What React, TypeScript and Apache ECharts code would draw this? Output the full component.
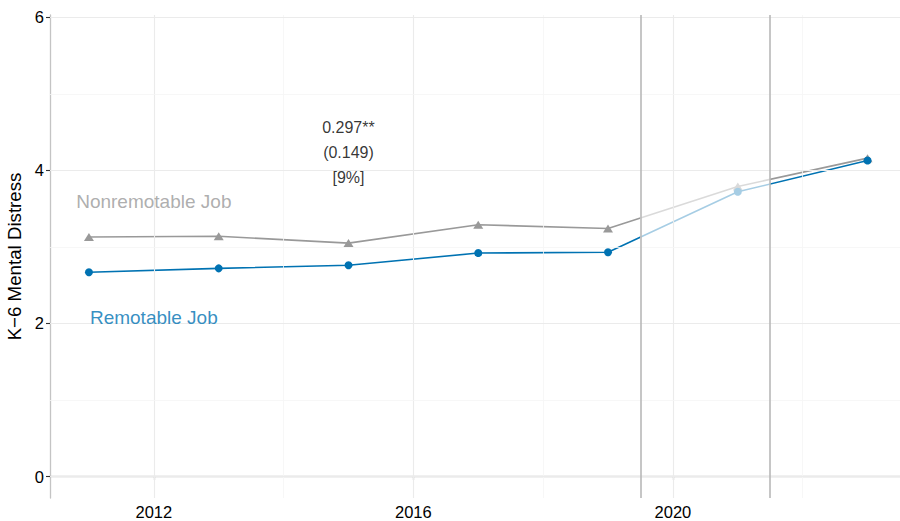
import React, { useEffect, useRef } from "react";
import * as echarts from "echarts";

// Survey years and K-6 mental distress means by job type
const years = [2011, 2013, 2015, 2017, 2019, 2021, 2023];
const nonremotable = [3.13, 3.14, 3.05, 3.29, 3.24, 3.79, 4.16];
const remotable = [2.67, 2.72, 2.76, 2.92, 2.93, 3.72, 4.13];

// Axis ticks and grid
const xTicks = [2012, 2016, 2020];
const xMinor = [2014, 2018, 2022];
const yTicks = [0, 2, 4, 6];
const yMinor = [1, 3, 5];
const covidBounds = [2019.5, 2021.5];

// Estimate annotation
const estimateLines = ["0.297**", "(0.149)", "[9%]"];
const estimateAt = [2015, 4.24];

const FONT = "'Liberation Sans', Arial, Helvetica, sans-serif";

export default function App() {
  const ref = useRef<HTMLDivElement>(null);

  useEffect(() => {
    document.body.style.margin = "0";
    if (!ref.current) return;
    const chart = echarts.init(ref.current, undefined, { renderer: "svg" });

    const gridLines = [
      ...xTicks.map((v) => ({ xAxis: v, lineStyle: { color: "#ebebeb", width: 1.1, type: "solid" } })),
      ...xMinor.map((v) => ({ xAxis: v, lineStyle: { color: "#f5f5f5", width: 0.8, type: "solid" } })),
      ...yTicks.map((v) => ({ yAxis: v, lineStyle: { color: "#ebebeb", width: 1.1, type: "solid" } })),
      ...yMinor.map((v) => ({ yAxis: v, lineStyle: { color: "#f5f5f5", width: 0.8, type: "solid" } })),
    ];
    const periodLines = covidBounds.map((v) => ({
      xAxis: v,
      lineStyle: { color: "#b8b8b8", width: 1.6, type: "solid" },
    }));

    const pieces = (dark: string, light: string) => [
      { lt: covidBounds[0], color: dark },
      { gte: covidBounds[0], lte: covidBounds[1], color: light },
      { gt: covidBounds[1], color: dark },
    ];

    chart.setOption({
      animation: false,
      textStyle: { fontFamily: FONT },
      grid: {
        left: 50,
        top: 15,
        right: 0,
        height: 483,
        containLabel: false,
        outerBoundsMode: "none",
      },
      xAxis: {
        type: "value",
        min: 2010.4,
        max: 2023.5,
        axisLine: { show: true, lineStyle: { color: "#c4c4c4", width: 1.3 } },
        axisTick: { show: true, length: 4, customValues: xTicks, lineStyle: { color: "#333", width: 1.1 } },
        axisLabel: {
          customValues: xTicks,
          color: "#000",
          fontSize: 16.5,
          margin: 5,
          fontFamily: FONT,
          formatter: (v: number) => String(v),
        },
        splitLine: { show: false },
      },
      yAxis: {
        type: "value",
        min: -0.28,
        max: 6.03,
        name: "K\u22126 Mental Distress",
        nameLocation: "middle",
        nameRotate: 90,
        nameGap: 22,
        nameTextStyle: { fontSize: 18.7, color: "#000", fontFamily: FONT },
        axisLine: { show: true, lineStyle: { color: "#c4c4c4", width: 1.3 } },
        axisTick: { show: true, length: 4, customValues: yTicks, lineStyle: { color: "#333", width: 1.1 } },
        axisLabel: {
          customValues: yTicks,
          color: "#000",
          fontSize: 16.5,
          margin: 6,
          fontFamily: FONT,
        },
        splitLine: { show: false },
      },
      visualMap: [
        { type: "piecewise", show: false, dimension: 0, seriesIndex: 1, pieces: pieces("#999999", "#dadada") },
        { type: "piecewise", show: false, dimension: 0, seriesIndex: 2, pieces: pieces("#0072B2", "#a6cde4") },
      ],
      series: [
        {
          type: "scatter",
          z: 1,
          silent: true,
          data: [],
          markLine: {
            silent: true,
            symbol: "none",
            label: { show: false },
            data: [...gridLines, ...periodLines],
          },
        },
        {
          name: "Nonremotable Job",
          type: "line",
          z: 3,
          data: years.map((y, i) => [y, nonremotable[i]]),
          symbol: "triangle",
          symbolSize: [10, 8],
          lineStyle: { width: 1.6 },
        },
        {
          name: "Remotable Job",
          type: "line",
          z: 4,
          data: years.map((y, i) => [y, remotable[i]]),
          symbol: "circle",
          symbolSize: 8,
          lineStyle: { width: 1.6 },
        },
        {
          type: "scatter",
          z: 5,
          silent: true,
          symbolSize: 0,
          data: [
            {
              value: [2012, 3.6],
              label: { formatter: "Nonremotable Job", color: "#999999" },
            },
            {
              value: [2012, 2.08],
              label: { formatter: "Remotable Job", color: "#0072B2" },
            },
          ],
          label: { show: true, position: "inside", fontSize: 19, fontFamily: FONT },
        },
        {
          type: "scatter",
          z: 5,
          silent: true,
          symbolSize: 0,
          data: [{ value: estimateAt }],
          label: {
            show: true,
            position: "inside",
            formatter: estimateLines.join("\n"),
            fontSize: 16,
            lineHeight: 25,
            color: "#000",
            fontFamily: FONT,
            align: "center",
          },
        },
      ],
    });

    return () => chart.dispose();
  }, []);

  return <div ref={ref} style={{ width: 900, height: 521 }} />;
}
